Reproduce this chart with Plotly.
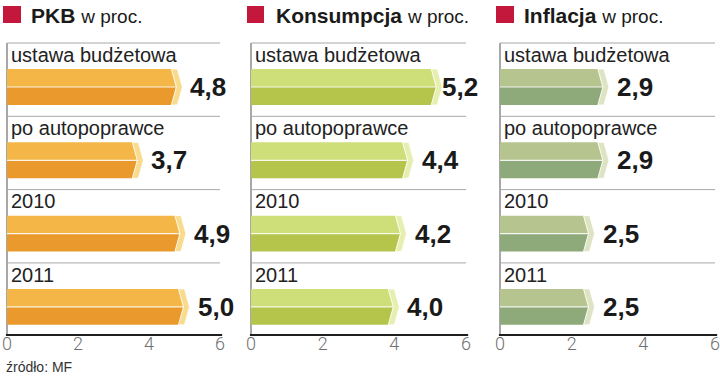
import plotly.graph_objects as go

# ---------------- data ----------------
categories = ["ustawa budżetowa", "po autopoprawce", "2010", "2011"]
pkb = [4.8, 3.7, 4.9, 5.0]
konsumpcja = [5.2, 4.4, 4.2, 4.0]
inflacja = [2.9, 2.9, 2.5, 2.5]
panel_titles = ["PKB", "Konsumpcja", "Inflacja"]
unit_label = "w proc."
tick_vals = [0, 2, 4, 6]
source_text = "źródło: MF"

# ---------------- layout helpers ----------------
W, H = 720, 376
ROW0, ROWSTEP = 87.0, 73.3          # pixel centre of first row, spacing
AXIS_PX = 335.0                      # pixel y of horizontal axis line
DOM_BOTTOM_PX = 331.0                # bottom of plotting area (tick labels hang below)


def py2row(p):
    return (p - ROW0) / ROWSTEP


panels = [
    dict(values=pkb, title=panel_titles[0], dom=(7, 220), top="#F4B747", bot="#EA9A2C",
         cap="#F9DB8E", sq=(3, 21), tx=29),
    dict(values=konsumpcja, title=panel_titles[1], dom=(251, 466), top="#CEDE78", bot="#B5C44A",
         cap="#E7EFB0", sq=(247, 264), tx=274),
    dict(values=inflacja, title=panel_titles[2], dom=(500, 715), top="#B6C48F", bot="#8FAA7A",
         cap="#DEE4C3", sq=(496, 514), tx=522),
]

HALF = 0.245   # half bar height (row units)
TIP = 0.14     # pointed end length (x units)
CAPW = 0.17    # cap width (x units)

fig = go.Figure()
shapes = []
annotations = []

for k, p in enumerate(panels):
    xa = "x" if k == 0 else f"x{k+1}"
    axname = "xaxis" if k == 0 else f"xaxis{k+1}"
    for i, v in enumerate(p["values"]):
        c = i
        t, b = c - HALF, c + HALF
        xe = v - CAPW
        # top half (lighter)
        fig.add_trace(go.Scatter(
            x=[-TIP, 0, xe, xe + TIP, -TIP], y=[c, t, t, c, c], xaxis=xa, yaxis="y",
            fill="toself", fillcolor=p["top"], mode="lines", line=dict(width=0),
            hoverinfo="skip", showlegend=False, cliponaxis=False))
        # bottom half (darker)
        fig.add_trace(go.Scatter(
            x=[-TIP, 0, xe, xe + TIP, -TIP], y=[c, b, b, c, c], xaxis=xa, yaxis="y",
            fill="toself", fillcolor=p["bot"], mode="lines", line=dict(width=0),
            hoverinfo="skip", showlegend=False, cliponaxis=False))
        # pale end cap
        fig.add_trace(go.Scatter(
            x=[xe, v, v + TIP, v, xe, xe + TIP, xe], y=[t, t, c, b, b, c, t], xaxis=xa, yaxis="y",
            fill="toself", fillcolor=p["cap"], mode="lines", line=dict(width=0.8, color="white"),
            hoverinfo="skip", showlegend=False, cliponaxis=False))
        # light middle edge
        fig.add_trace(go.Scatter(
            x=[-TIP, xe + TIP], y=[c, c], xaxis=xa, yaxis="y", mode="lines",
            line=dict(width=1.2, color="rgba(255,255,255,0.85)"),
            hoverinfo="skip", showlegend=False, cliponaxis=False))
        # separator above row
        shapes.append(dict(type="line", xref=xa, yref="y", x0=0, x1=6.05, y0=c - 0.6, y1=c - 0.6,
                           line=dict(color="#A8A8A8", width=1), layer="below"))
        # row label
        annotations.append(dict(xref=xa, yref="y", x=0, y=c - 0.44, text=categories[i],
                                showarrow=False, xanchor="left", yanchor="middle", xshift=2,
                                font=dict(family="Liberation Sans, Arial", size=20, color="#222")))
        # value label
        shift = 11 if v <= 5.0 else 3
        annotations.append(dict(xref=xa, yref="y", x=v, y=c, text=f"<b>{v:.1f}</b>".replace(".", ","),
                                showarrow=False, xanchor="left", yanchor="middle", xshift=shift,
                                font=dict(family="Liberation Sans, Arial", size=26, color="#1A1A1A")))
    # vertical axis line (down to the horizontal axis)
    shapes.append(dict(type="line", xref=f"{xa} domain", yref="paper", x0=0, x1=0,
                       y0=1 - AXIS_PX / H, y1=1 - (ROW0 - 0.6 * ROWSTEP) / H,
                       line=dict(color="#6E6E6E", width=1.2), layer="below"))
    # horizontal axis line
    shapes.append(dict(type="line", xref=f"{xa} domain", yref="paper", x0=-0.005, x1=1.01,
                       y0=1 - AXIS_PX / H, y1=1 - AXIS_PX / H,
                       line=dict(color="#1E1E1E", width=2)))
    # header square
    shapes.append(dict(type="rect", xref="paper", yref="paper",
                       x0=p["sq"][0] / W, x1=p["sq"][1] / W, y0=1 - 23 / H, y1=1 - 6 / H,
                       fillcolor="#C3173B", line=dict(width=0)))
    annotations.append(dict(xref="paper", yref="paper", x=p["tx"] / W, y=1 - 15.5 / H,
                            text=f"<b>{p['title']}</b> <span style='font-size:19px'>{unit_label}</span>",
                            showarrow=False, xanchor="left", yanchor="middle",
                            font=dict(family="Liberation Sans, Arial", size=21, color="#1A1A1A")))
    fig.update_layout(**{axname: dict(
        domain=[p["dom"][0] / W, p["dom"][1] / W], range=[0, 6], anchor="y",
        tickvals=tick_vals, ticktext=[str(t) for t in tick_vals], showgrid=False, zeroline=False,
        showline=False, ticks="", automargin=False, ticklabeloverflow="allow",
        tickfont=dict(family="Roboto, Liberation Sans", size=18, color="#707070", weight=300),
        fixedrange=True)})

annotations.append(dict(xref="paper", yref="paper", x=4 / W, y=1 - 367 / H, text=source_text,
                        showarrow=False, xanchor="left", yanchor="middle",
                        font=dict(family="Liberation Sans, Arial", size=14, color="#333")))

fig.update_layout(
    width=W, height=H,
    margin=dict(l=0, r=0, t=0, b=0, autoexpand=False),
    paper_bgcolor="white", plot_bgcolor="rgba(0,0,0,0)",
    yaxis=dict(domain=[(H - DOM_BOTTOM_PX) / H, 1], range=[py2row(DOM_BOTTOM_PX), py2row(0)],
               visible=False, fixedrange=True, automargin=False),
    shapes=shapes, annotations=annotations, showlegend=False,
)

fig.write_html("out.html", config={"displayModeBar": False},
               post_script="document.body.style.margin='0';document.body.style.overflow='hidden';")
